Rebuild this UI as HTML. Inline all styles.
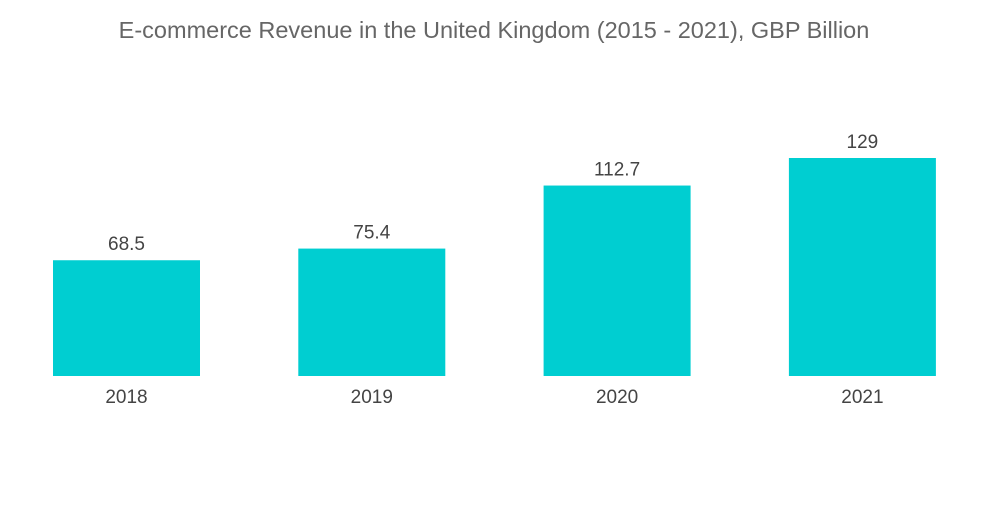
<!DOCTYPE html>
<html><head><meta charset="utf-8"><style>
body{margin:0;background:#fff;width:1000px;height:504px;overflow:hidden;font-family:"Liberation Sans",sans-serif}
</style></head><body>
<svg width="1000" height="504">
<text x="494" y="38" text-anchor="middle" font-size="23.5" fill="#666">E-commerce Revenue in the United Kingdom (2015 - 2021), GBP Billion</text>
<g id="bars"></g>
</svg>
<script>
const categories=["2018","2019","2020","2021"];
const values=[68.5,75.4,112.7,129];
const labels=["68.5","75.4","112.7","129"];
const base=376, k=218/129, x0=53, step=245.3, bw=147;
const y=v=>base-v*k;
const g=document.getElementById('bars');
const ns="http://www.w3.org/2000/svg";
categories.forEach((c,i)=>{
  const x=x0+i*step;
  const r=document.createElementNS(ns,'rect');
  r.setAttribute('x',x);r.setAttribute('y',y(values[i]));
  r.setAttribute('width',bw);r.setAttribute('height',base-y(values[i]));
  r.setAttribute('fill','#00ced1');
  
  
  g.appendChild(r);
  const t=document.createElementNS(ns,'text');
  t.setAttribute('x',x+bw/2);t.setAttribute('y',y(values[i])-10);
  t.setAttribute('text-anchor','middle');t.setAttribute('font-size','19');t.setAttribute('fill','#444');
  t.textContent=labels[i];
  
  
  g.appendChild(t);
  const l=document.createElementNS(ns,'text');
  l.setAttribute('x',x+bw/2);l.setAttribute('y',403);
  l.setAttribute('text-anchor','middle');l.setAttribute('font-size','19');l.setAttribute('fill','#444');
  l.textContent=c;
  
  
  g.appendChild(l);
});
</script>
</body></html>
